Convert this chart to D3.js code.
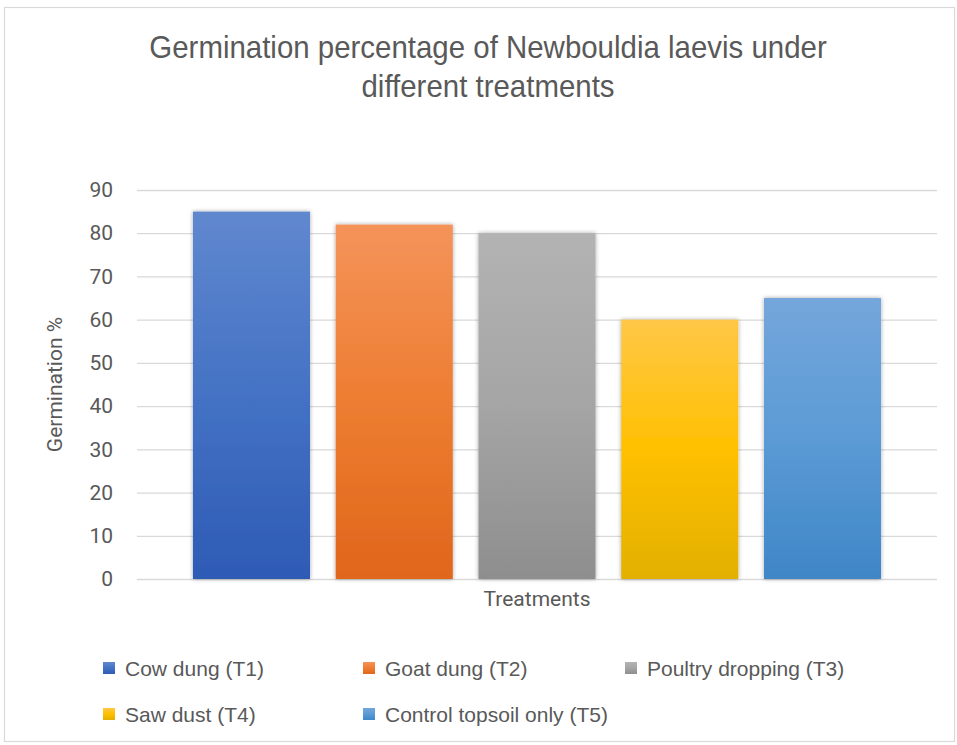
<!DOCTYPE html>
<html>
<head>
<meta charset="utf-8">
<script src="https://cdn.jsdelivr.net/npm/d3@7"></script>
<style>
  body { margin: 0; background: #fff; }
  svg { display: block; }
</style>
</head>
<body>
<div id="chart"></div>
<script>
var treatments = ["Cow dung (T1)", "Goat dung (T2)", "Poultry dropping (T3)", "Saw dust (T4)", "Control topsoil only (T5)"];
var germination = [85, 82, 80, 60, 65];
var yTicks = [0, 10, 20, 30, 40, 50, 60, 70, 80, 90];
var category = ["Treatments"];
// top, middle, bottom of each bar's gradient
var shades = [
  ["#6088cf", "#4472c4", "#2e5bb5"],
  ["#f4935a", "#ed7d31", "#e0661b"],
  ["#b3b3b3", "#a5a5a5", "#8e8e8e"],
  ["#ffc747", "#ffc000", "#e2b000"],
  ["#74a6db", "#5b9bd5", "#3f86c7"]
];

var W = 957, H = 745;
var margin = {top: 190, left: 137, right: 20, bottom: 166},
    width = W - margin.left - margin.right,
    height = H - margin.top - margin.bottom;

var svg = d3.select("#chart").append("svg")
    .attr("width", W)
    .attr("height", H);

var defs = svg.append("defs");
shades.forEach(function(s, i) {
  var g = defs.append("linearGradient")
      .attr("id", "grad" + i)
      .attr("x1", 0).attr("y1", 0).attr("x2", 0).attr("y2", 1);
  g.append("stop").attr("offset", "0%").attr("stop-color", s[0]);
  g.append("stop").attr("offset", "50%").attr("stop-color", s[1]);
  g.append("stop").attr("offset", "100%").attr("stop-color", s[2]);
});
var f = defs.append("filter").attr("id", "shadow")
    .attr("x", "-10%").attr("y", "-10%").attr("width", "120%").attr("height", "120%");
f.append("feDropShadow")
    .attr("dx", 0).attr("dy", 0).attr("stdDeviation", 2.2)
    .attr("flood-color", "#000").attr("flood-opacity", 0.35);

// chart area border
svg.append("rect")
    .attr("x", 4.5).attr("y", 7.5)
    .attr("width", W - 7).attr("height", H - 11)
    .attr("fill", "#fff")
    .attr("stroke", "#d9d9d9")
    .attr("stroke-width", 1.2);

// title (squeezed a little, the original font is narrower)
var title = svg.append("text")
    .attr("transform", "translate(488,0) scale(0.95,1)")
    .attr("text-anchor", "middle")
    .style("font-family", "'Liberation Sans', Arial, sans-serif")
    .style("font-size", "31px")
    .style("fill", "#595959");
title.append("tspan").attr("x", 0).attr("y", 58).text("Germination percentage of Newbouldia laevis under");
title.append("tspan").attr("x", 0).attr("y", 97).text("different treatments");

var canvas = svg.append("g")
    .attr("transform", "translate(" + margin.left + "," + margin.top + ")");

var y = d3.scaleLinear()
    .domain([0, 90])
    .range([height, 0]);

var x0 = d3.scaleBand()
    .domain(category)
    .range([0, width])
    .paddingOuter(0.0604);

var x1 = d3.scaleBand()
    .domain(treatments)
    .range([0, x0.bandwidth()])
    .paddingInner(0.18)
    .paddingOuter(0.09);

// gridlines
canvas.append("g")
    .attr("class", "grid")
    .call(d3.axisLeft(y).tickValues(yTicks).tickSize(-width).tickFormat(""))
    .call(function(g) { g.select(".domain").remove(); })
    .selectAll("line")
    .attr("stroke", "#d9d9d9")
    .attr("stroke-width", 1.3);

// y tick labels
canvas.append("g")
    .call(d3.axisLeft(y).tickValues(yTicks).tickSize(0).tickPadding(24))
    .call(function(g) { g.select(".domain").remove(); })
    .selectAll("text")
    .style("font-family", "Roboto, sans-serif")
    .style("font-size", "21px")
    .style("fill", "#595959");

// bars
var group = canvas.selectAll(".cat")
    .data(category)
    .enter().append("g")
    .attr("class", "cat")
    .attr("transform", function(d) { return "translate(" + x0(d) + ",0)"; });

group.selectAll("rect")
    .data(germination)
    .enter().append("rect")
    .attr("x", function(d, i) { return x1(treatments[i]); })
    .attr("y", function(d) { return y(d); })
    .attr("width", x1.bandwidth())
    .attr("height", function(d) { return height - y(d); })
    .attr("fill", function(d, i) { return "url(#grad" + i + ")"; })
    .attr("filter", "url(#shadow)");

// x axis label (category)
canvas.append("g")
    .attr("transform", "translate(0," + height + ")")
    .call(d3.axisBottom(x0).tickSize(0).tickPadding(12))
    .call(function(g) { g.select(".domain").remove(); })
    .selectAll("text")
    .style("font-family", "Roboto, sans-serif")
    .style("font-size", "21px")
    .style("fill", "#595959");

// y axis title
svg.append("text")
    .attr("transform", "translate(62," + (margin.top + height / 2) + ") rotate(-90)")
    .attr("text-anchor", "middle")
    .style("font-family", "Roboto, sans-serif")
    .style("font-size", "21px")
    .style("fill", "#595959")
    .text("Germination %");

// legend
var legendX = [103, 363, 625];
var legendG = svg.selectAll(".legend")
    .data(treatments)
    .enter().append("g")
    .attr("class", "legend")
    .attr("transform", function(d, i) {
      return "translate(" + legendX[i % 3] + "," + (668 + Math.floor(i / 3) * 46) + ")";
    });

legendG.append("rect")
    .attr("x", 0).attr("y", -6)
    .attr("width", 12).attr("height", 12)
    .attr("fill", function(d, i) { return "url(#grad" + i + ")"; });

legendG.append("text")
    .text(function(d) { return d; })
    .attr("x", 22)
    .attr("y", 8)
    .style("font-family", "'Liberation Sans', Arial, sans-serif")
    .style("font-size", "21px")
    .style("fill", "#595959");
</script>
</body>
</html>
